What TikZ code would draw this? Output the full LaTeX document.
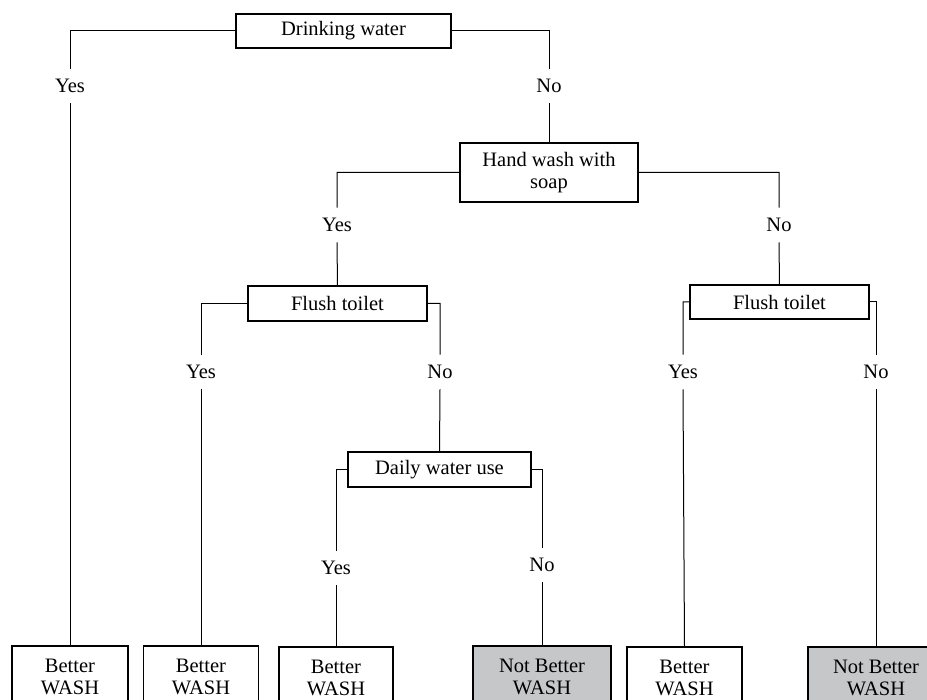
\documentclass[tikz,border=0pt]{standalone}
\usepackage{fontspec}
\setmainfont{Liberation Serif}
\definecolor{notbetter}{HTML}{C6C7C9}

\begin{document}
\begin{tikzpicture}[x=1pt,y=-1pt,line width=1pt,
    every node/.append style={font=\fontsize{20.5}{22}\selectfont},
    qbox/.style={draw,line width=1.3pt,inner sep=0pt,align=center},
    wash/.style={draw,line width=1.3pt,inner sep=0pt,align=center,
      minimum height=62pt},
    ans/.style={inner xsep=1pt,inner ysep=10pt}]
  \useasboundingbox (0,0) rectangle (927,700);
  \node[qbox,minimum width=215pt,minimum height=34pt] (drink) at (343.5,31) {Drinking water};
  \node[qbox,minimum width=178pt,minimum height=59pt] (hand) at (549,172.5) {Hand wash with\\soap};
  \node[qbox,minimum width=179pt,minimum height=35pt] (flushA) at (337.5,303.5) {Flush toilet};
  \node[qbox,minimum width=179pt,minimum height=34pt] (flushB) at (779.5,302) {Flush toilet};
  \node[qbox,minimum width=183pt,minimum height=35pt] (daily) at (439.5,469.5) {Daily water use};
  \node[wash,minimum width=116pt] (washA) at (70,677) {Better\\WASH};
  \node[wash,minimum width=115pt] (washB) at (201,677) {Better\\WASH};
  \node[wash,minimum width=114pt] (washC) at (336,678) {Better\\WASH};
  \node[wash,minimum width=138pt,fill=notbetter] (washD) at (542,677) {Not Better\\WASH};
  \node[wash,minimum width=115pt] (washE) at (684.5,678) {Better\\WASH};
  \node[wash,minimum width=136pt,fill=notbetter] (washF) at (876,678) {Not Better\\WASH};
  \node[ans] (yesA) at (70,86) {Yes};
  \node[ans] (noA) at (549,86) {No};
  \node[ans] (yesB) at (337,225) {Yes};
  \node[ans] (noB) at (779,225) {No};
  \node[ans] (yesC) at (201,372) {Yes};
  \node[ans] (noC) at (440,372) {No};
  \node[ans] (yesD) at (683,372) {Yes};
  \node[ans] (noD) at (876,372) {No};
  \node[ans] (yesE) at (336,568) {Yes};
  \node[ans] (noE) at (542,565) {No};
  \draw (drink.west) -| (yesA.north) (yesA.south) -- (washA.north);
  \draw (drink.east) -| (noA.north) (noA.south) -- (hand.north);
  \draw (hand.west) -| (yesB.north) (yesB.south) -- (flushA.north);
  \draw (hand.east) -| (noB.north) (noB.south) -- (flushB.north);
  \draw (flushA.west) -| (yesC.north) (yesC.south) -- (washB.north);
  \draw (flushA.east) -| (noC.north) (noC.south) -- (daily.north);
  \draw (flushB.west) -| (yesD.north) (yesD.south) -- (washE.north);
  \draw (flushB.east) -| (noD.north) (noD.south) -- (washF.north);
  \draw (daily.west) -| (yesE.north) (yesE.south) -- (washC.north);
  \draw (daily.east) -| (noE.north) (noE.south) -- (washD.north);
\end{tikzpicture}
\end{document}
